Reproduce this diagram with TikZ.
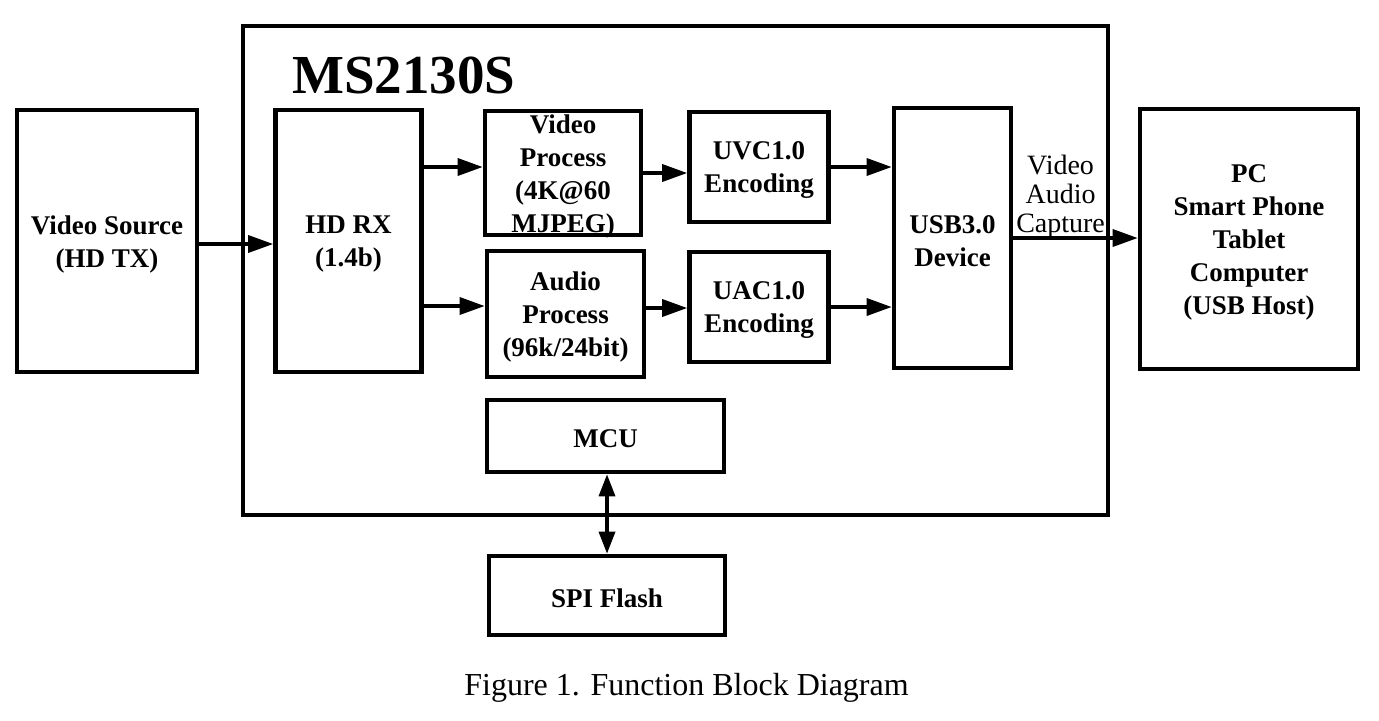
\documentclass[tikz,border=0pt]{standalone}
\usepackage{fontspec}
\setmainfont{Liberation Serif}
\usetikzlibrary{arrows.meta}

\begin{document}
\begin{tikzpicture}[x=0.5pt,y=-0.5pt,
  txt/.style={font=\bfseries\fontsize{13.5}{16.5}\selectfont,align=center,yshift=-1.5pt},
  blk/.style n args={3}{draw,line width=2.3pt,minimum width=#1*0.5pt,minimum height=#2*0.5pt,inner sep=0pt,label={[txt]center:#3}},
  arr/.style={line width=1.7pt,-{Triangle[length=12.5pt,width=8.5pt]}},
  darr/.style={line width=1.7pt,{Triangle[length=11pt,width=8pt]}-{Triangle[length=11pt,width=8pt]}}]
\useasboundingbox (0,0) rectangle (1379,720);
% outer chip
\node[blk={865}{489}{}] (chip) at (675.5,270.5) {};
\node[anchor=base west,font=\bfseries\fontsize{27.5}{30}\selectfont,inner sep=0pt] (title) at (292,93) {MS2130S};
% blocks
\node[blk={180}{262}{Video Source\\(HD TX)}] (src) at (107,241) {};
\node[blk={146}{262}{HD RX\\(1.4b)}] (hdrx) at (348.5,241) {};
\node[blk={156}{124}{Video\\Process\\(4K@60\\MJPEG)}] (vproc) at (563,173) {};
\node[blk={157}{126}{Audio\\Process\\(96k/24bit)}] (aproc) at (565.5,314) {};
\node[blk={139}{110}{UVC1.0\\Encoding}] (uvc) at (759,167) {};
\node[blk={139}{110}{UAC1.0\\Encoding}] (uac) at (759,307) {};
\node[blk={117}{260}{USB3.0\\Device}] (usb) at (952.5,238) {};
\node[blk={218}{260}{PC\\Smart Phone\\Tablet\\Computer\\(USB Host)}] (pc) at (1249,239) {};
\node[blk={237}{72}{MCU}] (mcu) at (605.5,436) {};
\node[blk={236}{79}{SPI Flash}] (spi) at (607,595.5) {};
% connectors
\coordinate (s1) at ([yshift=-1.5pt]src.east);
\coordinate (v1) at ([yshift=3pt]vproc.west);
\coordinate (a1) at ([yshift=4pt]aproc.west);
\coordinate (a2) at ([yshift=3pt]aproc.east);
\draw[arr] (s1) -- (s1 -| hdrx.west);
\draw[arr] (v1 -| hdrx.east) -- (v1);
\draw[arr] (a1 -| hdrx.east) -- (a1);
\draw[arr] (vproc.east) -- (vproc.east -| uvc.west);
\draw[arr] (a2) -- (a2 -| uac.west);
\draw[arr] (uvc.east) -- (uvc.east -| usb.west);
\draw[arr] (uac.east) -- (uac.east -| usb.west);
\draw[arr] (usb.east) -- (usb.east -| pc.west)
   node[pos=0.38,above,inner sep=0pt,yshift=-1pt,align=center,font=\fontsize{14}{14.5}\selectfont] (cap) {Video\\Audio\\Capture};
\draw[darr] (spi.north |- mcu.south) -- (spi.north);
% caption
\node[anchor=base,font=\fontsize{16}{19}\selectfont,inner sep=0pt] (fig) at (686.5,695) {Figure 1. Function Block Diagram};
\end{tikzpicture}
\end{document}
